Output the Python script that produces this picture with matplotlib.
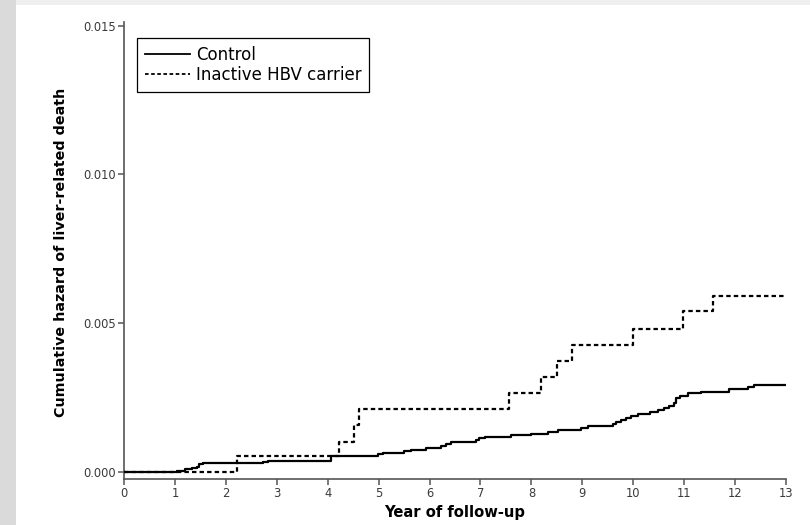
import numpy as np
import matplotlib.pyplot as plt
from matplotlib.patches import Rectangle

#~~~~~~Data~~~~~~
ctrl_years = [0, 1.05, 1.20, 1.33, 1.43, 1.47, 1.55, 2.72, 2.82, 4.07, 4.98, 5.08,
              5.50, 5.63, 5.93, 6.23, 6.33, 6.42, 6.91, 6.98, 7.08, 7.60, 8.00,
              8.32, 8.52, 8.98, 9.11, 9.60, 9.67, 9.76, 9.86, 9.96, 10.09, 10.32,
              10.48, 10.61, 10.71, 10.81, 10.84, 10.91, 11.07, 11.33, 11.89,
              12.25, 12.38, 13.0]
ctrl_hazard = [0, 0.000035, 0.00008, 0.000114, 0.00016, 0.00025, 0.00028, 0.00032,
               0.00036, 0.00051, 0.00059, 0.00063, 0.00070, 0.00074, 0.00079,
               0.00087, 0.00094, 0.00099, 0.00105, 0.00112, 0.00118, 0.00123,
               0.00128, 0.00134, 0.00140, 0.00147, 0.00153, 0.00160, 0.00167,
               0.00175, 0.00180, 0.00186, 0.00194, 0.00199, 0.00206, 0.00213,
               0.00222, 0.00231, 0.00248, 0.00253, 0.00263, 0.00269, 0.00278,
               0.00285, 0.00292, 0.00292]

hbv_years = [0, 2.22, 4.22, 4.52, 4.61, 7.57, 8.18, 8.51, 8.79, 9.99, 10.97, 11.57, 13.0]
hbv_hazard = [0, 0.00051, 0.00099, 0.00158, 0.00211, 0.00265, 0.00318, 0.00372,
              0.00426, 0.00479, 0.00539, 0.00589, 0.00589]

xticks = list(range(0, 14))
yticks = [0.0, 0.005, 0.010, 0.015]
labels = ['Control', 'Inactive HBV carrier']

#~~~~~~Figure~~~~~~
W, H = 810, 525
fig = plt.figure(figsize=(W / 100, H / 100), dpi=100)
fig.patch.set_facecolor('white')

# grey slide margins
fig.patches.append(Rectangle((0, 0), 16 / W, 1, transform=fig.transFigure,
                             facecolor='#dadada', edgecolor='none', zorder=0))
fig.patches.append(Rectangle((16 / W, 1 - 5 / H), 1, 5 / H, transform=fig.transFigure,
                             facecolor='#efefef', edgecolor='none', zorder=0))

ax = fig.add_axes([124 / W, (H - 478.5) / H, (786 - 124) / W, (478.5 - 22) / H])
ax.set_facecolor('white')

ax.step(ctrl_years, ctrl_hazard, where='post', color='black', lw=1.6,
        label=labels[0], zorder=3)
ax.step(hbv_years, hbv_hazard, where='post', color='black', lw=1.6,
        linestyle=(0, (2.0, 1.4)), label=labels[1], zorder=3)

ax.set_xlim(0, 13)
ax.set_ylim(-0.00023, 0.01512)
ax.set_xticks(xticks)
ax.set_yticks(yticks)
ax.set_yticklabels(['%.3f' % t for t in yticks])

for s in ['top', 'right']:
    ax.spines[s].set_visible(False)
for s in ['left', 'bottom']:
    ax.spines[s].set_color('#555555')
    ax.spines[s].set_linewidth(1.2)
ax.tick_params(direction='out', length=4, width=1.1, color='#555555',
               labelcolor='#3a3a3a', labelsize=8.3, pad=2)

fig.text(455 / W, 1 - 513 / H, 'Year of follow-up', ha='center', va='center',
         fontsize=10.6, fontweight='bold')
fig.text(61 / W, 1 - 252 / H, 'Cumulative hazard of liver-related death',
         ha='center', va='center', rotation=90, fontsize=10.3, fontweight='bold')

leg = ax.legend(loc='upper left', bbox_to_anchor=(137 / W, 1 - 38 / H),
                bbox_transform=fig.transFigure, borderaxespad=0, fontsize=12,
                fancybox=False, framealpha=1, edgecolor='black',
                handlelength=2.7, handletextpad=0.4, borderpad=0.45,
                labelspacing=0.15)
leg.get_frame().set_linewidth(0.9)
for line in leg.get_lines():
    line.set_linewidth(1.3)

fig.savefig('out.png', dpi=100)
